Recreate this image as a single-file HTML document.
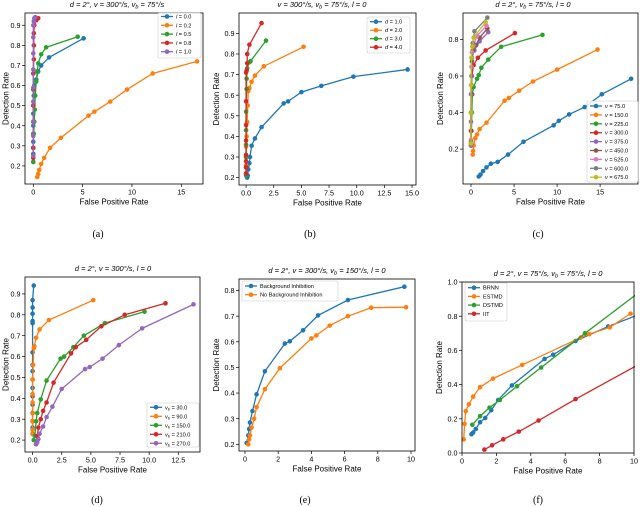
<!DOCTYPE html>
<html><head><meta charset="utf-8"><style>
body{margin:0;background:#fff}
svg{display:block;font-family:"Liberation Sans",sans-serif}
.tk{font-size:7.2px;fill:#000}
.lab{font-size:8px;fill:#000}
.ttl{font-size:7.5px;font-style:italic;fill:#000}
.cap{font-family:"Liberation Serif",serif;font-size:10px}
.lg{font-size:5.6px}
</style></head><body>
<svg id="fig" width="640" height="507" viewBox="0 0 640 507" xmlns="http://www.w3.org/2000/svg"></svg>
<script>
// ---- data (x = false positive rate, y = detection rate) ----
const aL00x=[0,0,0,0,0,0,0,0,0,0.05,0.1,0.3,0.5,0.8,1.6,5.1];
const aL00y=[0.22,0.26,0.29,0.32,0.36,0.40,0.42,0.46,0.50,0.55,0.60,0.63,0.67,0.70,0.74,0.835];
const aL02x=[0.4,0.5,0.6,0.8,1.1,1.7,2.8,5.6,6.2,7.8,9.5,12.1,16.6];
const aL02y=[0.145,0.16,0.18,0.21,0.24,0.29,0.34,0.45,0.47,0.52,0.58,0.66,0.72];
const aL05x=[0,0,0.05,0.1,0.15,0.2,0.3,0.4,0.5,0.8,1.3,4.5];
const aL05y=[0.22,0.29,0.36,0.42,0.48,0.55,0.62,0.67,0.71,0.755,0.79,0.843];
const aL08x=[0,0,0,0,0,0,0,0.05,0.05,0.05,0.1,0.3,0.5];
const aL08y=[0.24,0.29,0.35,0.42,0.50,0.58,0.66,0.73,0.80,0.86,0.90,0.925,0.935];
const aL10x=[0,0,0,0,0,0,0,0,0,0.05,0.1,0.2];
const aL10y=[0.25,0.35,0.42,0.52,0.59,0.68,0.76,0.84,0.90,0.92,0.935,0.94];

const bD1x=[0.1,0.15,0.2,0.3,0.35,0.5,0.8,1.4,3.4,3.8,5,6.8,9.7,14.6];
const bD1y=[0.2,0.21,0.24,0.27,0.3,0.355,0.39,0.445,0.56,0.57,0.615,0.645,0.69,0.725];
const bD2x=[0,0,0,0,0.05,0.1,0.15,0.2,0.3,0.5,0.8,1.6,5.2];
const bD2y=[0.22,0.26,0.3,0.35,0.4,0.47,0.55,0.62,0.635,0.665,0.695,0.74,0.835];
const bD3x=[0,0,0,0,0,0,0.05,0.05,0.1,0.3,0.4,1.8];
const bD3y=[0.21,0.25,0.3,0.36,0.43,0.52,0.63,0.68,0.73,0.76,0.765,0.865];
const bD4x=[0,0,0,0,0,0,0,0,0.05,0.1,0.1,0.3,1.4];
const bD4y=[0.22,0.25,0.28,0.31,0.38,0.455,0.57,0.71,0.72,0.755,0.8,0.845,0.95];

const cV75x=[0.9,1.1,1.4,1.8,2.3,3.1,4.3,6.1,9.6,10.2,11.4,13.2,15.2,18.6];
const cV75y=[0.05,0.06,0.08,0.1,0.12,0.13,0.17,0.24,0.33,0.355,0.39,0.43,0.5,0.585];
const cV150x=[0.2,0.25,0.3,0.5,0.7,1,1.8,3.9,4.4,5.6,7.2,10,14.7];
const cV150y=[0.17,0.19,0.22,0.26,0.28,0.31,0.345,0.465,0.48,0.52,0.57,0.635,0.745];
const cV225x=[0,0.05,0.1,0.15,0.3,0.7,0.9,1.2,2,3.5,8.3];
const cV225y=[0.22,0.3,0.4,0.5,0.54,0.585,0.605,0.645,0.69,0.76,0.825];
const cV300x=[0,0,0,0.05,0.1,0.3,0.8,1.7,5.1];
const cV300y=[0.22,0.3,0.4,0.5,0.6,0.66,0.70,0.74,0.835];
const cV375x=[0,0,0,0.05,0.1,0.4,1,2];
const cV375y=[0.22,0.35,0.5,0.6,0.7,0.74,0.79,0.84];
const cV450x=[0,0,0.05,0.1,0.2,0.6,1,1.9];
const cV450y=[0.23,0.4,0.55,0.68,0.74,0.77,0.81,0.86];
const cV525x=[0,0,0,0.05,0.1,0.3,0.7,1.8];
const cV525y=[0.25,0.4,0.55,0.65,0.73,0.77,0.82,0.875];
const cV600x=[0,0,0.05,0.1,0.2,0.4,1.9];
const cV600y=[0.24,0.4,0.55,0.7,0.78,0.845,0.92];
const cV675x=[0,0,0,0.05,0.15,0.3,1.7];
const cV675y=[0.23,0.4,0.55,0.7,0.76,0.81,0.895];

const dB30x=[0,0,0,0,0,0,0,0,0,0,0,0,0,0,0,0,0.1];
const dB30y=[0.23,0.26,0.29,0.33,0.37,0.41,0.45,0.49,0.53,0.56,0.62,0.76,0.77,0.805,0.835,0.87,0.94];
const dB90x=[0,0,0,0,0,0,0,0.05,0.1,0.15,0.3,0.6,1.4,5.2];
const dB90y=[0.23,0.25,0.29,0.33,0.38,0.42,0.49,0.56,0.64,0.65,0.69,0.73,0.775,0.87];
const dB150x=[0.1,0.2,0.3,0.4,0.7,1.2,2.4,2.7,3.5,4.4,6.2,9.6];
const dB150y=[0.2,0.22,0.29,0.33,0.395,0.485,0.59,0.6,0.645,0.70,0.76,0.815];
const dB210x=[0.3,0.4,0.5,0.7,0.9,1.2,1.8,3.3,3.7,4.6,5.9,7.9,11.4];
const dB210y=[0.18,0.22,0.26,0.30,0.34,0.38,0.475,0.615,0.645,0.68,0.745,0.80,0.855];
const dB270x=[0.3,0.4,0.5,0.6,0.9,1.2,1.7,2.5,4.5,4.9,6.0,7.4,9.4,13.8];
const dB270y=[0.18,0.19,0.205,0.23,0.265,0.31,0.36,0.445,0.54,0.55,0.59,0.655,0.735,0.85];

const eBIx=[0.1,0.2,0.25,0.3,0.45,0.7,1.2,2.4,2.7,3.5,4.4,6.2,9.6];
const eBIy=[0.205,0.235,0.26,0.285,0.33,0.395,0.485,0.593,0.602,0.645,0.703,0.763,0.815];
const eNBIx=[0.2,0.25,0.3,0.4,0.55,0.7,1.2,2.1,4.0,4.3,5.1,6.2,7.6,9.7];
const eNBIy=[0.2,0.22,0.235,0.265,0.3,0.345,0.415,0.497,0.613,0.625,0.663,0.70,0.733,0.735];

const fBRNNx=[0.55,0.65,0.8,1.05,1.35,1.7,2.1,2.9,4.8,5.3,6.6,8.5,10.3];
const fBRNNy=[0.11,0.12,0.14,0.18,0.205,0.25,0.31,0.395,0.55,0.575,0.655,0.74,0.81];
const fESTMDx=[0.1,0.15,0.22,0.4,0.65,1.05,1.8,3.5,6.9,7.4,8.6,9.8];
const fESTMDy=[0.08,0.17,0.245,0.285,0.33,0.385,0.435,0.515,0.675,0.695,0.735,0.815];
const fDSTMDx=[0.6,1.05,1.6,2.2,3.2,4.6,7.15,10.5];
const fDSTMDy=[0.165,0.215,0.265,0.31,0.39,0.50,0.70,0.955];
const fIITx=[1.3,1.75,2.4,3.3,4.45,6.6,10.5];
const fIITy=[0.02,0.045,0.08,0.125,0.19,0.315,0.53];

// tick labels
const ticksA_x=[0,5,10,15], ticksA_y=[0.2,0.3,0.4,0.5,0.6,0.7,0.8,0.9];
const ticksB_x=[0,2.5,5,7.5,10,12.5,15], ticksB_y=[0.2,0.3,0.4,0.5,0.6,0.7,0.8,0.9];
const ticksC_x=[0,5,10,15], ticksC_y=[0.2,0.4,0.6,0.8];
const ticksD_x=[0,2.5,5,7.5,10,12.5], ticksD_y=[0.2,0.3,0.4,0.5,0.6,0.7,0.8,0.9];
const ticksE_x=[0,2,4,6,8,10], ticksE_y=[0.2,0.3,0.4,0.5,0.6,0.7,0.8];
const ticksF_x=[0,2,4,6,8,10], ticksF_y=[0,0.2,0.4,0.6,0.8,1.0];

const C=['#1f77b4','#ff7f0e','#2ca02c','#d62728','#9467bd','#8c564b','#e377c2','#7f7f7f','#bcbd22'];
const NS='http://www.w3.org/2000/svg';
const svg=document.getElementById('fig');
function mk(tag,attrs,parent){const e=document.createElementNS(NS,tag);for(const k in attrs)e.setAttribute(k,attrs[k]);(parent||svg).appendChild(e);return e;}

function panel(id,box,xd,yd,xt,xfmt,yt,yfmt,title,titleX,series,leg,cap){
  const g=mk('g',{});
  
  
  const [L,T,R,B]=box;
  const sx=v=>L+(v-xd[0])/(xd[1]-xd[0])*(R-L);
  const sy=v=>B-(v-yd[0])/(yd[1]-yd[0])*(B-T);
  const cp=mk('clipPath',{id:'clip'+id},g);
  mk('rect',{x:L-1,y:T-1,width:R-L+2,height:B-T+2},cp);
  xt.forEach(v=>{const x=sx(v);
    const t=mk('line',{x1:x,x2:x,y1:B,y2:B+3,stroke:'#000','stroke-width':0.7},g);
    
    const l=mk('text',{x:x,y:B+10.5,'text-anchor':'middle',class:'tk'},g);l.textContent=xfmt(v);
    });
  yt.forEach(v=>{const y=sy(v);
    const t=mk('line',{x1:L-3,x2:L,y1:y,y2:y,stroke:'#000','stroke-width':0.7},g);
    
    const l=mk('text',{x:L-4.5,y:y+2.6,'text-anchor':'end',class:'tk'},g);l.textContent=yfmt(v);
    });
  const sg=mk('g',{'clip-path':'url(#clip'+id+')'},g);
  series.forEach((s,i)=>{
    const pts=s.x.map((v,j)=>sx(v).toFixed(2)+','+sy(s.y[j]).toFixed(2)).join(' ');
    const pl=mk('polyline',{points:pts,fill:'none',stroke:s.c,'stroke-width':1.3},sg);
    
    
    s.x.forEach((v,j)=>{const c=mk('circle',{cx:sx(v),cy:sy(s.y[j]),r:2.3,fill:s.c},sg);
      });
  });
  const fr=mk('rect',{x:L,y:T,width:R-L,height:B-T,fill:'none',stroke:'#000','stroke-width':0.8},g);
  
  const xl=mk('text',{x:(L+R)/2,y:B+20.5,'text-anchor':'middle',class:'lab'},g);xl.textContent='False Positive Rate';
  
  const yx=leg.yl, yc=(T+B)/2;
  const yl=mk('text',{x:yx,y:yc,'text-anchor':'middle',class:'lab',transform:'rotate(-90 '+yx+' '+yc+')'},g);yl.textContent='Detection Rate';
  
  const tt=mk('text',{x:titleX,y:T-6,'text-anchor':'middle',class:'ttl'},g);tt.innerHTML=title;
  
  const cpt=mk('text',{x:cap[0],y:cap[1],'text-anchor':'middle',class:'cap'},g);cpt.textContent=cap[2];
  
  const lgG=mk('g',{},g);
  
  mk('rect',{x:leg.x,y:leg.y,width:leg.w,height:leg.h,fill:'#fff','fill-opacity':0.85,stroke:'#ccc','stroke-width':0.6,rx:1.5},lgG);
  series.forEach((s,i)=>{const y=leg.y0+i*leg.dy;
    const e=mk('g',{},lgG);
    
    mk('line',{x1:leg.x+3,x2:leg.x+15,y1:y,y2:y,stroke:s.c,'stroke-width':1.3},e);
    mk('circle',{cx:leg.x+9,cy:y,r:2.3,fill:s.c},e);
    const t=mk('text',{x:leg.x+18,y:y+2,class:'lg'},e);t.innerHTML=s.n;});
}
const f1=v=>v.toFixed(1), f0=v=>String(v);
const l=(n)=>'<tspan font-style="italic">'+n+'</tspan>';
const vb=(n)=>'v<tspan font-size="4" dy="1">b</tspan><tspan dy="-1"> = '+n+'</tspan>';
panel('a',[25,13,203,184],[-0.84,17.2],[0.11,0.961],ticksA_x,f0,ticksA_y,f1,
 'd = 2°,  v = 300°/s,  v<tspan font-size="5.5" dy="1.5">b</tspan><tspan dy="-1.5"> = 75°/s</tspan>',117,
 [{x:aL00x,y:aL00y,c:C[0],n:l('l')+' = 0.0'},{x:aL02x,y:aL02y,c:C[1],n:l('l')+' = 0.2'},{x:aL05x,y:aL05y,c:C[2],n:l('l')+' = 0.5'},{x:aL08x,y:aL08y,c:C[3],n:l('l')+' = 0.8'},{x:aL10x,y:aL10y,c:C[4],n:l('l')+' = 1.0'}],
 {x:158,y:13,w:43,h:45,y0:16.5,dy:8.8,yl:8.5},[98,237,'(a)']);
panel('b',[239,13,416,185],[-0.64,15.36],[0.164,0.999],ticksB_x,f1,ticksB_y,f1,
 'v = 300°/s,  v<tspan font-size="5.5" dy="1.5">b</tspan><tspan dy="-1.5"> = 75°/s,  l = 0</tspan>',322,
 [{x:bD1x,y:bD1y,c:C[0],n:l('d')+' = 1.0'},{x:bD2x,y:bD2y,c:C[1],n:l('d')+' = 2.0'},{x:bD3x,y:bD3y,c:C[2],n:l('d')+' = 3.0'},{x:bD4x,y:bD4y,c:C[3],n:l('d')+' = 4.0'}],
 {x:367,y:17,w:43,h:36,y0:21.7,dy:8.5,yl:219},[310,237,'(b)']);
panel('c',[463,13,638,184],[-0.93,19.4],[0.009,0.945],ticksC_x,f0,ticksC_y,f1,
 'd = 2°,  v<tspan font-size="5.5" dy="1.5">b</tspan><tspan dy="-1.5"> = 75°/s,  l = 0</tspan>',533,
 [{x:cV75x,y:cV75y,c:C[0],n:l('v')+' = 75.0'},{x:cV150x,y:cV150y,c:C[1],n:l('v')+' = 150.0'},{x:cV225x,y:cV225y,c:C[2],n:l('v')+' = 225.0'},{x:cV300x,y:cV300y,c:C[3],n:l('v')+' = 300.0'},{x:cV375x,y:cV375y,c:C[4],n:l('v')+' = 375.0'},{x:cV450x,y:cV450y,c:C[5],n:l('v')+' = 450.0'},{x:cV525x,y:cV525y,c:C[6],n:l('v')+' = 525.0'},{x:cV600x,y:cV600y,c:C[7],n:l('v')+' = 600.0'},{x:cV675x,y:cV675y,c:C[8],n:l('v')+' = 675.0'}],
 {x:587,y:101,w:51,h:81,y0:106,dy:8.9,yl:443},[538,237,'(c)']);
panel('d',[25,277,200,452],[-0.65,14.36],[0.143,0.981],ticksD_x,f1,ticksD_y,f1,
 'd = 2°,  v = 300°/s,  l = 0',113,
 [{x:dB30x,y:dB30y,c:C[0],n:vb('30.0')},{x:dB90x,y:dB90y,c:C[1],n:vb('90.0')},{x:dB150x,y:dB150y,c:C[2],n:vb('150.0')},{x:dB210x,y:dB210y,c:C[3],n:vb('210.0')},{x:dB270x,y:dB270y,c:C[4],n:vb('270.0')}],
 {x:147,y:403,w:52,h:44,y0:407.3,dy:9,yl:8.5},[97,503,'(d)']);
panel('e',[239,279,415,451],[-0.36,10.24],[0.174,0.845],ticksE_x,f0,ticksE_y,f1,
 'd = 2°,  v = 300°/s,  v<tspan font-size="5.5" dy="1.5">b</tspan><tspan dy="-1.5"> = 150°/s,  l = 0</tspan>',327,
 [{x:eBIx,y:eBIy,c:C[0],n:'Background Inhibition'},{x:eNBIx,y:eNBIy,c:C[1],n:'No Background Inhibition'}],
 {x:242,y:281,w:96,h:20,y0:286,dy:8.7,yl:219},[305,503,'(e)']);
panel('f',[462,282,634,453],[0,10],[0,1],ticksF_x,f0,ticksF_y,f1,
 'd = 2°,  v = 75°/s,  v<tspan font-size="5.5" dy="1.5">b</tspan><tspan dy="-1.5"> = 75°/s,  l = 0</tspan>',548,
 [{x:fBRNNx,y:fBRNNy,c:C[0],n:'BRNN'},{x:fESTMDx,y:fESTMDy,c:C[1],n:'ESTMD'},{x:fDSTMDx,y:fDSTMDy,c:C[2],n:'DSTMD'},{x:fIITx,y:fIITy,c:C[3],n:'IIT'}],
 {x:465,y:283,w:42,h:38,y0:287.7,dy:8.7,yl:442},[538,503,'(f)']);
</script>
</body></html>
